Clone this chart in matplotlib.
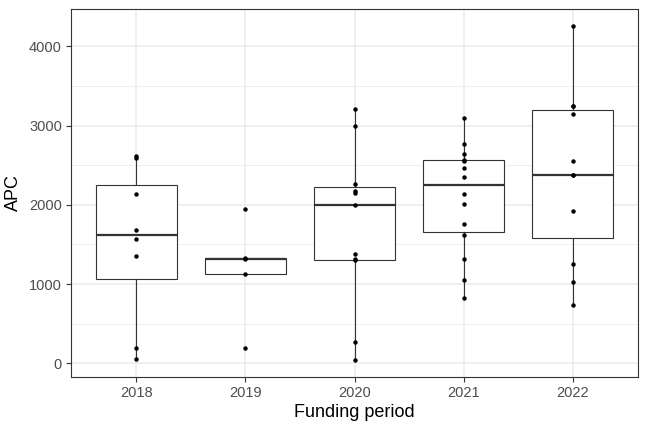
import numpy as np
import matplotlib.pyplot as plt
from matplotlib.ticker import MultipleLocator

plt.rcParams['font.family'] = ['Liberation Sans', 'DejaVu Sans']

# APC values per funding period
periods = ['2018', '2019', '2020', '2021', '2022']
apc_2018 = [54, 197, 1358, 1567, 1680, 2140, 2585, 2615]
apc_2019 = [197, 1124, 1313, 1333, 1944]
apc_2020 = [46, 267, 1300, 1316, 1379, 1994, 2150, 2180, 2261, 2988, 3210]
apc_2021 = [828, 1057, 1317, 1626, 1764, 2015, 2140, 2353, 2462, 2555, 2567,
            2637, 2771, 3093]
apc_2022 = [731, 1028, 1250, 1922, 2382, 2382, 2554, 3147, 3244, 3244, 4259]
groups = [apc_2018, apc_2019, apc_2020, apc_2021, apc_2022]

grey20 = '#333333'
grid_col = '#ebebeb'

fig = plt.figure(figsize=(6.48, 4.32), dpi=100)
ax = fig.add_axes([71 / 648, 1 - 376.5 / 432, (638 - 71) / 648, (376.5 - 9) / 432])

pos = np.arange(1, len(periods) + 1)
ax.boxplot(groups, positions=pos, widths=0.75, showfliers=False,
           patch_artist=True, zorder=2,
           boxprops=dict(facecolor='white', edgecolor=grey20, linewidth=0.8),
           whiskerprops=dict(color=grey20, linewidth=0.8),
           capprops=dict(linewidth=0),
           medianprops=dict(color=grey20, linewidth=1.6))

for p, vals in zip(pos, groups):
    ax.plot([p] * len(vals), vals, 'o', color='black', markersize=3.2,
            markeredgewidth=0, zorder=3)

allv = np.concatenate([np.array(g, dtype=float) for g in groups])
lo, hi = allv.min(), allv.max()
pad = (hi - lo) * 0.05
ax.set_ylim(lo - pad, hi + pad)
ax.set_xlim(0.4, len(periods) + 0.6)

ax.set_xticks(pos)
ax.set_xticklabels(periods)
ax.yaxis.set_major_locator(MultipleLocator(1000))
ax.yaxis.set_minor_locator(MultipleLocator(500))

ax.grid(True, which='major', color=grid_col, linewidth=1.1, zorder=0)
ax.grid(True, which='minor', axis='y', color=grid_col, linewidth=0.55, zorder=0)
ax.set_axisbelow(True)

for s in ax.spines.values():
    s.set_color(grey20)
    s.set_linewidth(0.8)

ax.tick_params(axis='both', which='major', length=3.5, width=0.8, color=grey20,
               labelcolor='#4d4d4d', labelsize=10.5, pad=3)
ax.tick_params(axis='y', which='minor', length=0)

ax.set_xlabel('Funding period', fontsize=13, color='black', labelpad=3)
ax.set_ylabel('APC', fontsize=13, color='black', labelpad=5)

fig.savefig('out.png', dpi=100)
